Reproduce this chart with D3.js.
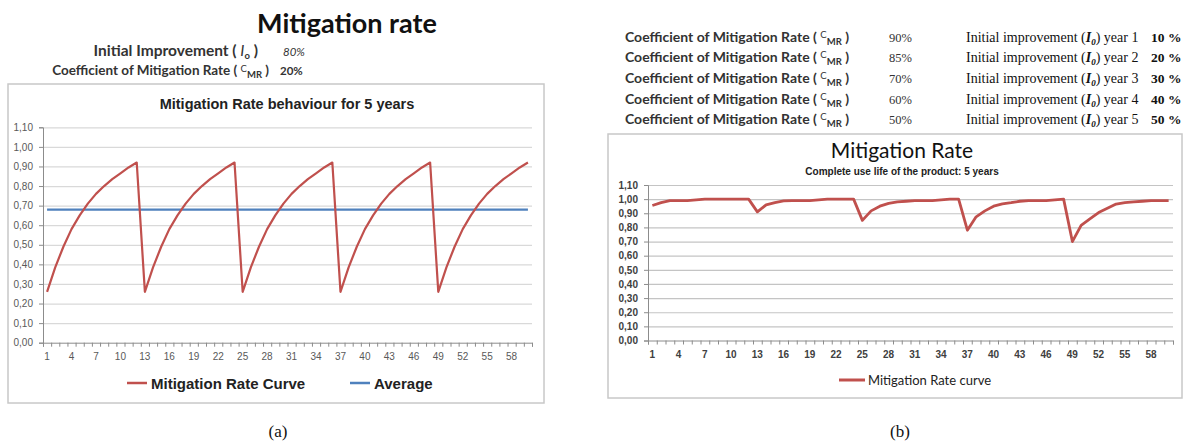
<!DOCTYPE html>
<html><head><meta charset="utf-8">
<script src="https://cdn.jsdelivr.net/npm/d3@7"></script>
<style>
html,body{margin:0;padding:0;background:#fff;}
svg{display:block;}
</style></head>
<body>
<svg id="c" width="1185" height="443"></svg>
<script>
// ---------- DATA ----------
const months = d3.range(1, 61);
const xTickLabels = [1,4,7,10,13,16,19,22,25,28,31,34,37,40,43,46,49,52,55,58];
const yTicks = [0,0.1,0.2,0.3,0.4,0.5,0.6,0.7,0.8,0.9,1.0,1.1];

// (a) Mitigation Rate Curve (monthly, 5 years)
const curveA = [
  0.26,0.385,0.49,0.58,0.65,0.71,0.76,0.80,0.835,0.865,0.895,0.92,
  0.26,0.385,0.49,0.58,0.65,0.71,0.76,0.80,0.835,0.865,0.895,0.92,
  0.26,0.385,0.49,0.58,0.65,0.71,0.76,0.80,0.835,0.865,0.895,0.92,
  0.26,0.385,0.49,0.58,0.65,0.71,0.76,0.80,0.835,0.865,0.895,0.92,
  0.26,0.385,0.49,0.58,0.65,0.71,0.76,0.80,0.835,0.865,0.895,0.92
];
const averageA = 0.68;

// (b) Mitigation Rate curve (monthly, 5 years)
const curveB = [
  0.955,0.975,0.99,0.99,0.99,0.995,1.0,1.0,1.0,1.0,1.0,1.0,
  0.91,0.96,0.976,0.987,0.99,0.99,0.99,0.995,1.0,1.0,1.0,1.0,
  0.85,0.917,0.95,0.97,0.98,0.985,0.99,0.99,0.99,0.995,1.0,1.0,
  0.78,0.875,0.917,0.95,0.967,0.975,0.985,0.99,0.99,0.99,0.995,1.0,
  0.70,0.815,0.86,0.905,0.935,0.965,0.975,0.98,0.985,0.99,0.99,0.99
];

// header tables
const headA = [
  {label:"Initial Improvement", sym:"I", sub:"o", value:"80%"},
  {label:"Coefficient of Mitigation Rate", sym:"C", sub:"MR", value:"20%"}
];
const cmrB = ["90%","85%","70%","60%","50%"];
const yearsB = [1,2,3,4,5];
const i0B = ["10 %","20 %","30 %","40 %","50 %"];

// ---------- DRAW ----------
const svg = d3.select("#c");
const fmt = v => d3.format(".2f")(v).replace(".", ",");
const RED = "#C0504D", BLUE = "#4F81BD";

// ===== Left header =====
svg.append("text").attr("x", 347).attr("y", 33).attr("text-anchor","middle")
  .attr("font-family","Lato, 'Liberation Sans', sans-serif").attr("font-weight","bold")
  .attr("font-size", 27).attr("fill","#111").text("Mitigation rate");

const hA = [{y:56, x:258, vx:283, fs:15.5}, {y:75, x:269, vx:280, fs:13.5}];
headA.forEach((d,i)=>{
  const t = svg.append("text").attr("x", hA[i].x).attr("y", hA[i].y).attr("text-anchor","end")
    .attr("font-family","Lato, sans-serif").attr("font-weight","bold")
    .attr("font-size", hA[i].fs).attr("fill","#333");
  t.append("tspan").text(d.label + " ( ");
  if (i === 0) {
    t.append("tspan").attr("font-style","italic").attr("font-weight","normal").text(d.sym);
    t.append("tspan").attr("font-size",9.5).attr("dy",3).text(d.sub);
    t.append("tspan").attr("dy",-3).text(" )");
  } else {
    t.append("tspan").attr("font-size",9.5).attr("dy",-3).attr("font-weight","normal").text(d.sym);
    t.append("tspan").attr("font-size",9.5).attr("dy",6).text(d.sub);
    t.append("tspan").attr("dy",-3).text(" )");
  }
  svg.append("text").attr("x", hA[i].vx).attr("y", hA[i].y)
    .attr("font-family","Lato, sans-serif").attr("font-size", 11.5)
    .attr("font-style", i===0 ? "italic" : "normal").attr("font-weight", i===0?"normal":"bold")
    .attr("fill","#333").text(d.value);
});

// ===== Left chart =====
svg.append("rect").attr("x",8).attr("y",84).attr("width",536).attr("height",319)
  .attr("fill","#fff").attr("stroke","#c8c8c8").attr("stroke-width",1.5);

svg.append("text").attr("x",287).attr("y",109).attr("text-anchor","middle")
  .attr("font-family","'Liberation Sans', Arial, sans-serif").attr("font-weight","bold")
  .attr("font-size",14.5).attr("fill","#222").text("Mitigation Rate behaviour for 5 years");

function drawChart(opt) {
  const g = svg.append("g");
  const x = d3.scaleBand().domain(months).range([opt.x0, opt.x1]);
  const xe = d3.scaleLinear().domain([0, 60]).range([opt.x0, opt.x1]);
  const y = d3.scaleLinear().domain([0, 1.1]).range([opt.y0, opt.y1]);
  const W = opt.x1 - opt.x0;

  // gridlines
  g.append("g").attr("transform",`translate(${opt.x0},0)`)
    .call(d3.axisLeft(y).tickValues(yTicks.slice(1)).tickSize(-W).tickFormat(""))
    .call(s => s.select(".domain").remove())
    .call(s => s.selectAll("line").attr("stroke", opt.grid).attr("stroke-width", 1.2));

  // y axis
  g.append("g").attr("transform",`translate(${opt.x0},0)`)
    .call(d3.axisLeft(y).tickValues(yTicks).tickSize(4).tickPadding(6).tickFormat(fmt))
    .call(s => s.select(".domain").attr("stroke","#8c8c8c"))
    .call(s => s.selectAll("line").attr("stroke","#8c8c8c"))
    .call(s => s.selectAll("text").attr("font-family", opt.font).attr("font-size", opt.fs)
      .attr("font-weight", opt.fw).attr("fill", opt.lab));

  // x axis: minor ticks at category edges
  g.append("g").attr("transform",`translate(0,${opt.y0})`)
    .call(d3.axisBottom(xe).tickValues(d3.range(0, 61)).tickSize(4).tickFormat(""))
    .call(s => s.select(".domain").attr("stroke","#8c8c8c"))
    .call(s => s.selectAll("line").attr("stroke","#8c8c8c"));
  // x labels
  g.append("g").attr("transform",`translate(0,${opt.y0})`)
    .call(d3.axisBottom(x).tickValues(xTickLabels).tickSize(0).tickPadding(10))
    .call(s => s.select(".domain").remove())
    .call(s => s.selectAll("text").attr("font-family", opt.font).attr("font-size", opt.fs)
      .attr("font-weight", opt.fw).attr("fill", opt.lab));

  const cx = m => x(m) + x.bandwidth()/2;
  return {x, y, cx, g};
}

const A = drawChart({x0:43, x1:532, y0:342.7, y1:127.3, grid:"#d9d9d9",
  font:"'Liberation Sans', Arial, sans-serif", fs:10, fw:"normal", lab:"#595959"});

A.g.append("path").datum(months.map((m,i)=>({m, v:averageA})))
  .attr("fill","none").attr("stroke",BLUE).attr("stroke-width",2.2)
  .attr("d", d3.line().x(d=>A.cx(d.m)).y(d=>A.y(d.v)));
A.g.append("path").datum(months.map((m,i)=>({m, v:curveA[i]})))
  .attr("fill","none").attr("stroke",RED).attr("stroke-width",2.2).attr("stroke-linejoin","round")
  .attr("d", d3.line().x(d=>A.cx(d.m)).y(d=>A.y(d.v)));

// legend (a)
const legA = [{name:"Mitigation Rate Curve", c:RED, x:127}, {name:"Average", c:BLUE, x:350}];
legA.forEach(d=>{
  svg.append("line").attr("x1",d.x).attr("x2",d.x+20).attr("y1",383).attr("y2",383)
    .attr("stroke",d.c).attr("stroke-width",2.5);
  svg.append("text").attr("x",d.x+24).attr("y",388.5)
    .attr("font-family","'Liberation Sans', Arial, sans-serif").attr("font-weight","bold")
    .attr("font-size",15).attr("fill","#222").text(d.name);
});

svg.append("text").attr("x",278).attr("y",437).attr("text-anchor","middle")
  .attr("font-family","'Liberation Serif', 'Times New Roman', serif").attr("font-size",17)
  .attr("fill","#111").text("(a)");

// ===== Right header =====
const rowY = [42, 62, 83, 104, 124];
cmrB.forEach((v,i)=>{
  const t = svg.append("text").attr("x",849).attr("y",rowY[i]).attr("text-anchor","end")
    .attr("font-family","Lato, sans-serif").attr("font-weight","bold")
    .attr("font-size",14).attr("fill","#333");
  t.append("tspan").text("Coefficient of Mitigation Rate ( ");
  t.append("tspan").attr("font-size",9.5).attr("dy",-4).attr("font-weight","normal").text("C");
  t.append("tspan").attr("font-size",9.5).attr("dy",7).text("MR");
  t.append("tspan").attr("dy",-3).text(" )");
  svg.append("text").attr("x",889).attr("y",rowY[i])
    .attr("font-family","'Liberation Serif', serif").attr("font-size",12.5)
    .attr("fill","#333").text(v);

  const u = svg.append("text").attr("x",966).attr("y",rowY[i])
    .attr("font-family","'Liberation Serif', 'Times New Roman', serif").attr("font-size",14)
    .attr("fill","#111");
  u.append("tspan").text("Initial improvement (");
  u.append("tspan").attr("font-style","italic").attr("font-weight","bold").text("I");
  u.append("tspan").attr("font-style","italic").attr("font-weight","bold").attr("font-size",9).attr("dy",3).text("0");
  u.append("tspan").attr("dy",-3).text(") year " + yearsB[i]);
  svg.append("text").attr("x",1151).attr("y",rowY[i])
    .attr("font-family","'Liberation Serif', 'Times New Roman', serif").attr("font-size",13.5)
    .attr("font-weight","bold").attr("fill","#111").text(i0B[i]);
});

// ===== Right chart =====
svg.append("rect").attr("x",608).attr("y",134).attr("width",574).attr("height",264)
  .attr("fill","#fff").attr("stroke","#c8c8c8").attr("stroke-width",1.5);

svg.append("text").attr("x",902).attr("y",158).attr("text-anchor","middle")
  .attr("font-family","Lato, 'Liberation Sans', sans-serif")
  .attr("font-size",21).attr("fill","#111").text("Mitigation Rate");
svg.append("text").attr("x",902).attr("y",175).attr("text-anchor","middle")
  .attr("font-family","'Liberation Sans', Arial, sans-serif").attr("font-weight","bold")
  .attr("font-size",10).attr("fill","#222").text("Complete use life of the product: 5 years");

const B = drawChart({x0:648, x1:1173, y0:340.5, y1:185, grid:"#c4c4c4",
  font:"'Liberation Sans', Arial, sans-serif", fs:10, fw:"bold", lab:"#404040"});

B.g.append("path").datum(months.map((m,i)=>({m, v:curveB[i]})))
  .attr("fill","none").attr("stroke",RED).attr("stroke-width",2.8).attr("stroke-linejoin","round")
  .attr("d", d3.line().x(d=>B.cx(d.m)).y(d=>B.y(d.v)));

svg.append("line").attr("x1",839).attr("x2",865).attr("y1",380).attr("y2",380)
  .attr("stroke",RED).attr("stroke-width",3);
svg.append("text").attr("x",868).attr("y",384.5)
  .attr("font-family","Lato, 'Liberation Sans', sans-serif")
  .attr("font-size",13).attr("fill","#222").text("Mitigation Rate curve");

svg.append("text").attr("x",900).attr("y",437).attr("text-anchor","middle")
  .attr("font-family","'Liberation Serif', 'Times New Roman', serif").attr("font-size",17)
  .attr("fill","#111").text("(b)");
</script>
</body></html>
